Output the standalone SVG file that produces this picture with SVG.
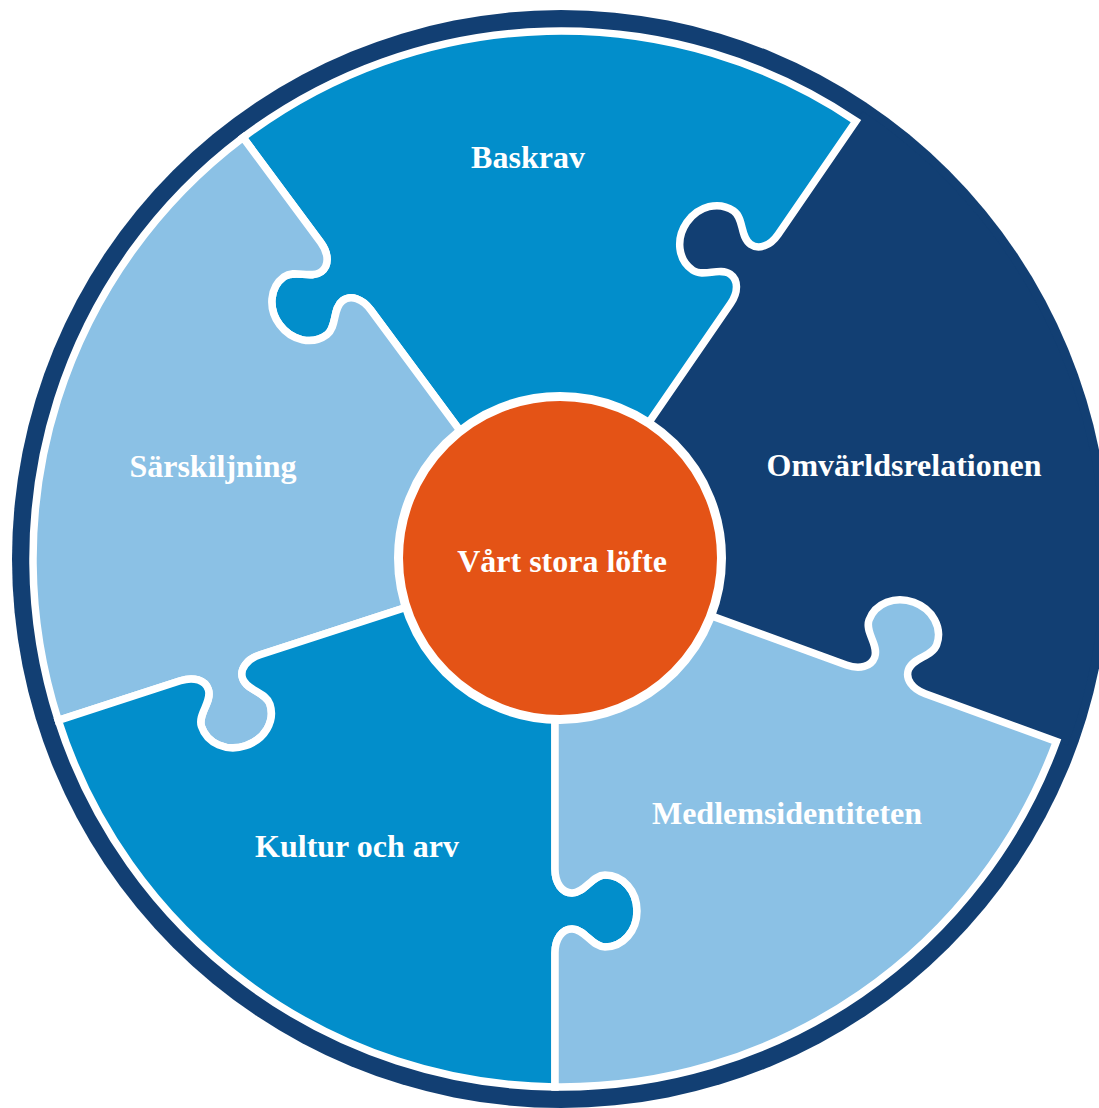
<svg xmlns="http://www.w3.org/2000/svg" width="1099" height="1108" viewBox="0 0 1099 1108">
  <style>
    .lbl { font-family: "Liberation Serif", "Times New Roman", serif; font-weight: bold; font-size: 32px; fill: #ffffff; text-anchor: middle; }
    .piece { stroke: #ffffff; stroke-width: 7.5; stroke-linejoin: miter; stroke-miterlimit: 6; }
    .navy { fill: #123F73; }
    .mid { fill: #028ECB; }
    .light { fill: #8BC1E5; }
  </style>

  <g id="ring">
    <circle cx="561" cy="559" r="549" class="navy"/>
  </g>

  <g id="omvarldsrelationen">
    <path class="navy" d="M555,559 L730.59,303.52 C738.52,291.98 738.41,279.78 730.17,274.11 C719.46,266.75 703.49,277.62 692.78,270.26 C677.94,260.06 675.47,238.95 686.80,222.46 C698.13,205.98 718.73,200.72 733.56,210.92 C744.27,218.28 739.85,237.08 750.56,244.44 C758.80,250.11 770.23,245.83 778.16,234.29 L862.78,111.17 A540,540 0 0 1 1067.7,745.6 L925.24,693.76 C912.08,688.97 905.08,678.97 908.50,669.57 C912.95,657.36 932.26,656.94 936.70,644.72 C942.86,627.81 932.61,609.18 913.82,602.34 C895.02,595.50 875.20,603.18 869.04,620.09 C864.60,632.31 879.12,645.04 874.67,657.26 C871.25,666.66 859.46,669.81 846.31,665.03 Z"/>
    <text class="lbl" x="904" y="476">Omvärldsrelationen</text>
  </g>

  <g id="baskrav">
    <path class="piece mid" d="M555,559 L370.61,309.80 C362.28,298.55 350.70,294.68 342.66,300.62 C332.21,308.36 337.29,326.99 326.84,334.72 C312.37,345.43 291.60,340.89 279.71,324.82 C267.81,308.74 269.55,287.55 284.02,276.84 C294.47,269.11 310.80,279.42 321.25,271.69 C329.29,265.74 328.97,253.53 320.64,242.28 L243.07,137.45 A528,528 0 0 1 855.97,121.08 L778.16,234.29 C770.23,245.83 758.80,250.11 750.56,244.44 C739.85,237.08 744.27,218.28 733.56,210.92 C718.73,200.72 698.13,205.98 686.80,222.46 C675.47,238.95 677.94,260.06 692.78,270.26 C703.49,277.62 719.46,266.75 730.17,274.11 C738.41,279.78 738.52,291.98 730.59,303.52 Z"/>
    <text class="lbl" x="528" y="168">Baskrav</text>
  </g>

  <g id="sarskiljning">
    <path class="piece light" d="M555,559 L260.17,654.80 C246.86,659.12 239.51,668.87 242.60,678.38 C246.62,690.74 265.90,691.84 269.92,704.20 C275.48,721.32 264.59,739.58 245.57,745.76 C226.55,751.94 207.00,743.57 201.44,726.45 C197.42,714.09 212.38,701.87 208.36,689.51 C205.27,679.99 193.60,676.43 180.28,680.75 L58.27,720.40 A528,528 0 0 1 243.07,137.45 L320.64,242.28 C328.97,253.53 329.29,265.74 321.25,271.69 C310.80,279.42 294.47,269.11 284.02,276.84 C269.55,287.55 267.81,308.74 279.71,324.82 C291.60,340.89 312.37,345.43 326.84,334.72 C337.29,326.99 332.21,308.36 342.66,300.62 C350.70,294.68 362.28,298.55 370.61,309.80 Z"/>
    <text class="lbl" x="213" y="477">Särskiljning</text>
  </g>

  <g id="kultur">
    <path class="piece mid" d="M555,559 L555,869 C555,883 562,893 572,893 C585,893 592,875 605,875 C623,875 637,891 637,911 C637,931 623,947 605,947 C592,947 585,929 572,929 C562,929 555,939 555,953 L555,1086.97 A528,528 0 0 1 58.27,720.40 L180.28,680.75 C193.60,676.43 205.27,679.99 208.36,689.51 C212.38,701.87 197.42,714.09 201.44,726.45 C207.00,743.57 226.55,751.94 245.57,745.76 C264.59,739.58 275.48,721.32 269.92,704.20 C265.90,691.84 246.62,690.74 242.60,678.38 C239.51,668.87 246.86,659.12 260.17,654.80 Z"/>
    <text class="lbl" x="357" y="857">Kultur och arv</text>
  </g>

  <g id="medlemsidentiteten">
    <path class="piece light" d="M555,559 L846.31,665.03 C859.46,669.81 871.25,666.66 874.67,657.26 C879.12,645.04 864.60,632.31 869.04,620.09 C875.20,603.18 895.02,595.50 913.82,602.34 C932.61,609.18 942.86,627.81 936.70,644.72 C932.26,656.94 912.95,657.36 908.50,669.57 C905.08,678.97 912.08,688.97 925.24,693.76 L1056.45,741.51 A528,528 0 0 1 555,1086.97 L555,953 C555,939 562,929 572,929 C585,929 592,947 605,947 C623,947 637,931 637,911 C637,891 623,875 605,875 C592,875 585,893 572,893 C562,893 555,883 555,869 Z"/>
    <text class="lbl" x="787" y="824">Medlemsidentiteten</text>
  </g>

  <g id="center">
    <circle cx="560" cy="558" r="161.5" fill="#E45316" stroke="#ffffff" stroke-width="9"/>
    <text class="lbl" x="562" y="572">Vårt stora löfte</text>
  </g>
</svg>
